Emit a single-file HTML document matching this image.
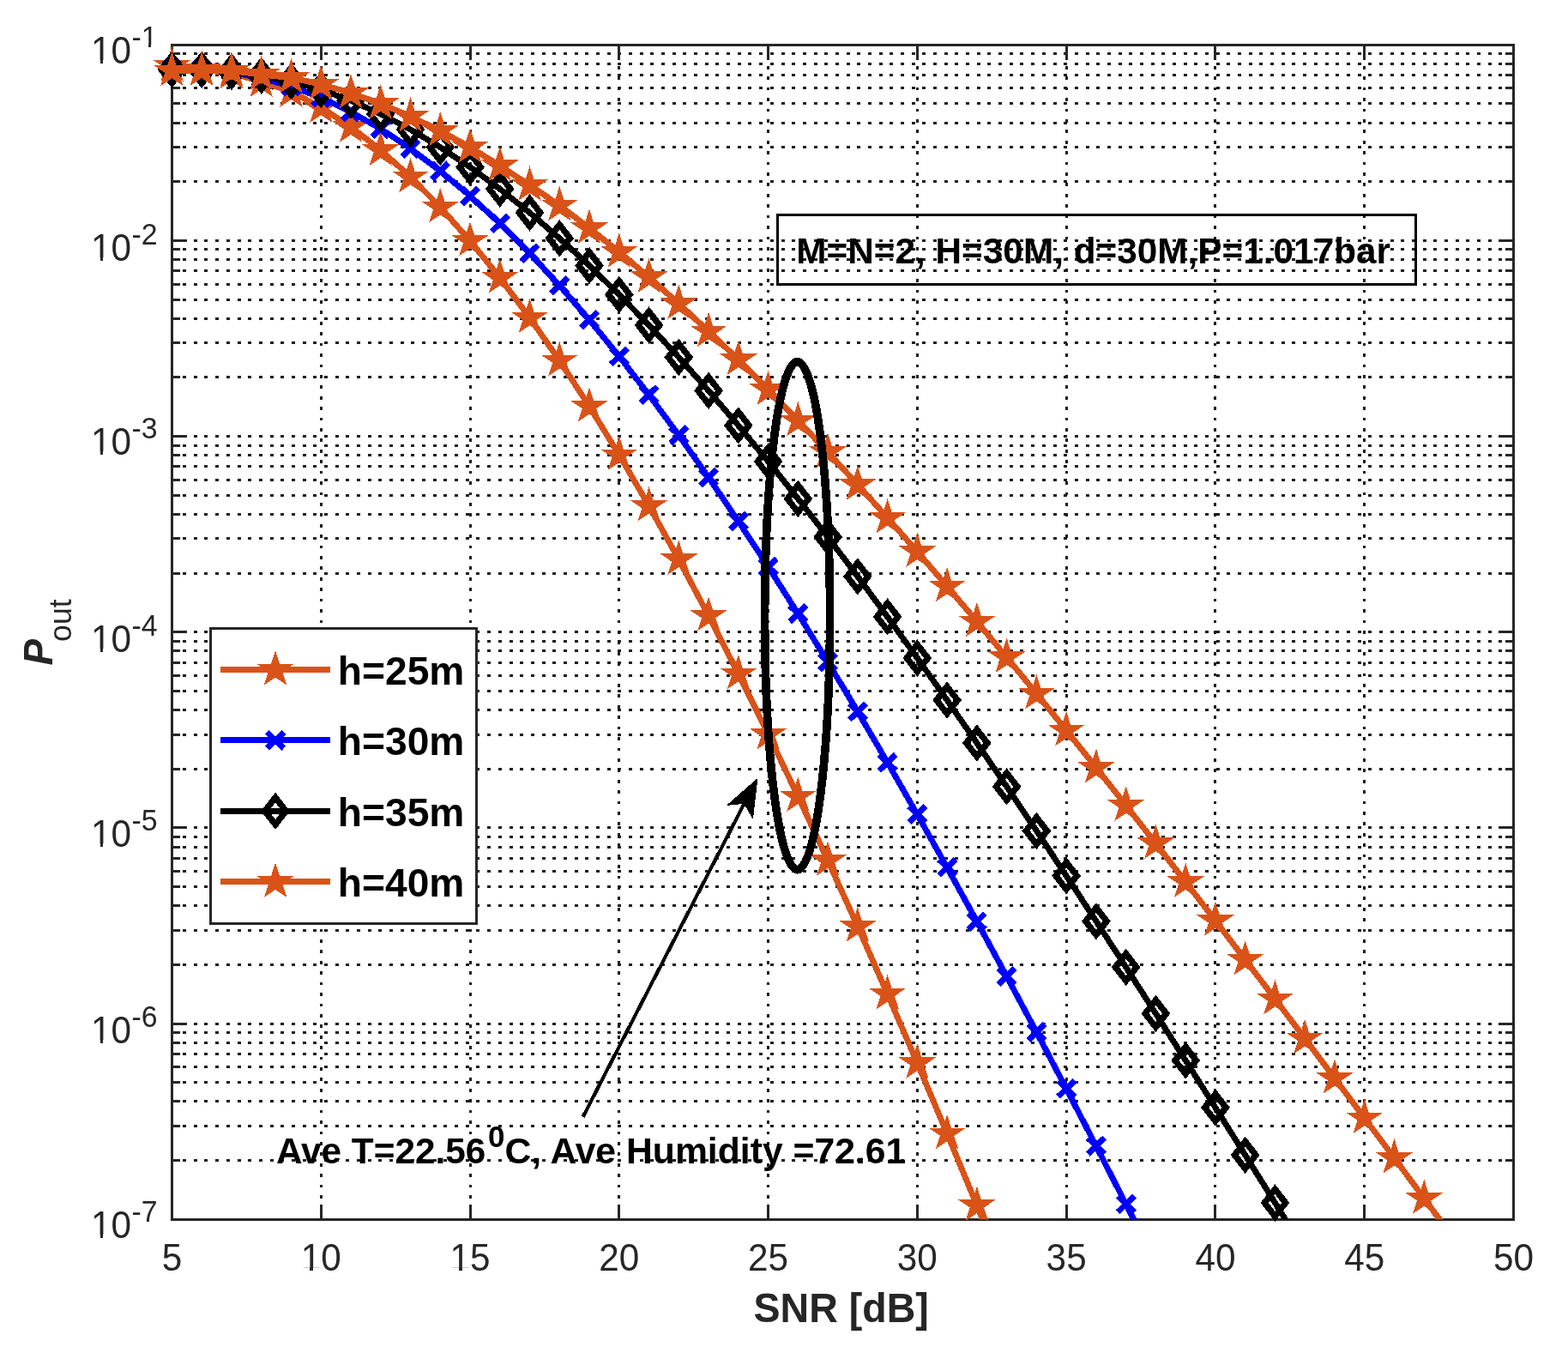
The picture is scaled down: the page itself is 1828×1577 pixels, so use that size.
<!DOCTYPE html>
<html><head><meta charset="utf-8"><title>Pout vs SNR</title>
<style>html,body{margin:0;padding:0;background:#fff}svg{display:block}</style></head>
<body>
<svg width="1828" height="1577" viewBox="0 0 1828 1577" font-family="'Liberation Sans', sans-serif" shape-rendering="crispEdges">
<rect x="0" y="0" width="1828" height="1577" fill="#fff"/>
<defs><clipPath id="axclip"><rect x="200.45" y="52.2" width="1564.05" height="1369.10"/></clipPath></defs>
<path d="M200.45 1352.61H1764.50M200.45 1312.43H1764.50M200.45 1283.92H1764.50M200.45 1261.81H1764.50M200.45 1243.74H1764.50M200.45 1228.46H1764.50M200.45 1215.23H1764.50M200.45 1203.56H1764.50M200.45 1193.12H1764.50M200.45 1124.43H1764.50M200.45 1084.25H1764.50M200.45 1055.74H1764.50M200.45 1033.62H1764.50M200.45 1015.56H1764.50M200.45 1000.28H1764.50M200.45 987.05H1764.50M200.45 975.37H1764.50M200.45 964.93H1764.50M200.45 896.24H1764.50M200.45 856.06H1764.50M200.45 827.55H1764.50M200.45 805.44H1764.50M200.45 787.37H1764.50M200.45 772.10H1764.50M200.45 758.86H1764.50M200.45 747.19H1764.50M200.45 736.75H1764.50M200.45 668.06H1764.50M200.45 627.88H1764.50M200.45 599.37H1764.50M200.45 577.26H1764.50M200.45 559.19H1764.50M200.45 543.91H1764.50M200.45 530.68H1764.50M200.45 519.01H1764.50M200.45 508.57H1764.50M200.45 439.88H1764.50M200.45 399.70H1764.50M200.45 371.19H1764.50M200.45 349.07H1764.50M200.45 331.01H1764.50M200.45 315.73H1764.50M200.45 302.50H1764.50M200.45 290.82H1764.50M200.45 280.38H1764.50M200.45 211.69H1764.50M200.45 171.51H1764.50M200.45 143.00H1764.50M200.45 120.89H1764.50M200.45 102.82H1764.50M200.45 87.55H1764.50M200.45 74.31H1764.50M200.45 62.64H1764.50" stroke="#1c1c1c" stroke-width="3" stroke-dasharray="4 8.68" fill="none"/>
<path d="M374.23 52.20V1421.30M548.02 52.20V1421.30M721.80 52.20V1421.30M895.58 52.20V1421.30M1069.37 52.20V1421.30M1243.15 52.20V1421.30M1416.93 52.20V1421.30M1590.72 52.20V1421.30" stroke="#1c1c1c" stroke-width="3" stroke-dasharray="3.8 8.617" stroke-dashoffset="0.2" fill="none"/>
<path d="M374.23 1421.30v-17.3M374.23 52.20v17.3M548.02 1421.30v-17.3M548.02 52.20v17.3M721.80 1421.30v-17.3M721.80 52.20v17.3M895.58 1421.30v-17.3M895.58 52.20v17.3M1069.37 1421.30v-17.3M1069.37 52.20v17.3M1243.15 1421.30v-17.3M1243.15 52.20v17.3M1416.93 1421.30v-17.3M1416.93 52.20v17.3M1590.72 1421.30v-17.3M1590.72 52.20v17.3M200.45 1352.61h9.4M1764.50 1352.61h-9.4M200.45 1312.43h9.4M1764.50 1312.43h-9.4M200.45 1283.92h9.4M1764.50 1283.92h-9.4M200.45 1261.81h9.4M1764.50 1261.81h-9.4M200.45 1243.74h9.4M1764.50 1243.74h-9.4M200.45 1228.46h9.4M1764.50 1228.46h-9.4M200.45 1215.23h9.4M1764.50 1215.23h-9.4M200.45 1203.56h9.4M1764.50 1203.56h-9.4M200.45 1193.12h17.3M1764.50 1193.12h-17.3M200.45 1124.43h9.4M1764.50 1124.43h-9.4M200.45 1084.25h9.4M1764.50 1084.25h-9.4M200.45 1055.74h9.4M1764.50 1055.74h-9.4M200.45 1033.62h9.4M1764.50 1033.62h-9.4M200.45 1015.56h9.4M1764.50 1015.56h-9.4M200.45 1000.28h9.4M1764.50 1000.28h-9.4M200.45 987.05h9.4M1764.50 987.05h-9.4M200.45 975.37h9.4M1764.50 975.37h-9.4M200.45 964.93h17.3M1764.50 964.93h-17.3M200.45 896.24h9.4M1764.50 896.24h-9.4M200.45 856.06h9.4M1764.50 856.06h-9.4M200.45 827.55h9.4M1764.50 827.55h-9.4M200.45 805.44h9.4M1764.50 805.44h-9.4M200.45 787.37h9.4M1764.50 787.37h-9.4M200.45 772.10h9.4M1764.50 772.10h-9.4M200.45 758.86h9.4M1764.50 758.86h-9.4M200.45 747.19h9.4M1764.50 747.19h-9.4M200.45 736.75h17.3M1764.50 736.75h-17.3M200.45 668.06h9.4M1764.50 668.06h-9.4M200.45 627.88h9.4M1764.50 627.88h-9.4M200.45 599.37h9.4M1764.50 599.37h-9.4M200.45 577.26h9.4M1764.50 577.26h-9.4M200.45 559.19h9.4M1764.50 559.19h-9.4M200.45 543.91h9.4M1764.50 543.91h-9.4M200.45 530.68h9.4M1764.50 530.68h-9.4M200.45 519.01h9.4M1764.50 519.01h-9.4M200.45 508.57h17.3M1764.50 508.57h-17.3M200.45 439.88h9.4M1764.50 439.88h-9.4M200.45 399.70h9.4M1764.50 399.70h-9.4M200.45 371.19h9.4M1764.50 371.19h-9.4M200.45 349.07h9.4M1764.50 349.07h-9.4M200.45 331.01h9.4M1764.50 331.01h-9.4M200.45 315.73h9.4M1764.50 315.73h-9.4M200.45 302.50h9.4M1764.50 302.50h-9.4M200.45 290.82h9.4M1764.50 290.82h-9.4M200.45 280.38h17.3M1764.50 280.38h-17.3M200.45 211.69h9.4M1764.50 211.69h-9.4M200.45 171.51h9.4M1764.50 171.51h-9.4M200.45 143.00h9.4M1764.50 143.00h-9.4M200.45 120.89h9.4M1764.50 120.89h-9.4M200.45 102.82h9.4M1764.50 102.82h-9.4M200.45 87.55h9.4M1764.50 87.55h-9.4M200.45 74.31h9.4M1764.50 74.31h-9.4M200.45 62.64h9.4M1764.50 62.64h-9.4" stroke="#262626" stroke-width="3.0" fill="none"/>
<rect x="200.45" y="52.2" width="1564.05" height="1369.10" fill="none" stroke="#262626" stroke-width="3.0"/>
<text transform="translate(200.45 1481.40) scale(1.016 1.045)" font-size="41.67" text-anchor="middle" fill="#262626">5</text>
<text transform="translate(374.23 1481.40) scale(1.016 1.045)" font-size="41.67" text-anchor="middle" fill="#262626">10</text>
<rect x="352.71" y="1477.75" width="8.62" height="4.25" fill="#fff"/><rect x="365.08" y="1477.75" width="8.29" height="4.25" fill="#fff"/>
<text transform="translate(548.02 1481.40) scale(1.016 1.045)" font-size="41.67" text-anchor="middle" fill="#262626">15</text>
<rect x="526.50" y="1477.75" width="8.62" height="4.25" fill="#fff"/><rect x="538.86" y="1477.75" width="8.29" height="4.25" fill="#fff"/>
<text transform="translate(721.80 1481.40) scale(1.016 1.045)" font-size="41.67" text-anchor="middle" fill="#262626">20</text>
<text transform="translate(895.58 1481.40) scale(1.016 1.045)" font-size="41.67" text-anchor="middle" fill="#262626">25</text>
<text transform="translate(1069.37 1481.40) scale(1.016 1.045)" font-size="41.67" text-anchor="middle" fill="#262626">30</text>
<text transform="translate(1243.15 1481.40) scale(1.016 1.045)" font-size="41.67" text-anchor="middle" fill="#262626">35</text>
<text transform="translate(1416.93 1481.40) scale(1.016 1.045)" font-size="41.67" text-anchor="middle" fill="#262626">40</text>
<text transform="translate(1590.72 1481.40) scale(1.016 1.045)" font-size="41.67" text-anchor="middle" fill="#262626">45</text>
<text transform="translate(1764.50 1481.40) scale(1.016 1.045)" font-size="41.67" text-anchor="middle" fill="#262626">50</text>
<text transform="translate(105.90 1443.00) scale(1.016 1.055)" font-size="41.67" fill="#262626">10</text>
<rect x="107.92" y="1439.32" width="8.62" height="4.28" fill="#fff"/><rect x="120.29" y="1439.32" width="8.29" height="4.28" fill="#fff"/>
<text transform="translate(153.60 1423.90) scale(1.016 1.05)" font-size="33.33" fill="#262626">-7</text>
<text transform="translate(105.90 1215.86) scale(1.016 1.055)" font-size="41.67" fill="#262626">10</text>
<rect x="107.92" y="1212.18" width="8.62" height="4.28" fill="#fff"/><rect x="120.29" y="1212.18" width="8.29" height="4.28" fill="#fff"/>
<text transform="translate(153.60 1196.76) scale(1.016 1.05)" font-size="33.33" fill="#262626">-6</text>
<text transform="translate(105.90 986.97) scale(1.016 1.055)" font-size="41.67" fill="#262626">10</text>
<rect x="107.92" y="983.29" width="8.62" height="4.28" fill="#fff"/><rect x="120.29" y="983.29" width="8.29" height="4.28" fill="#fff"/>
<text transform="translate(153.60 967.87) scale(1.016 1.05)" font-size="33.33" fill="#262626">-5</text>
<text transform="translate(105.90 759.88) scale(1.016 1.055)" font-size="41.67" fill="#262626">10</text>
<rect x="107.92" y="756.20" width="8.62" height="4.28" fill="#fff"/><rect x="120.29" y="756.20" width="8.29" height="4.28" fill="#fff"/>
<text transform="translate(153.60 740.78) scale(1.016 1.05)" font-size="33.33" fill="#262626">-4</text>
<text transform="translate(105.90 529.88) scale(1.016 1.055)" font-size="41.67" fill="#262626">10</text>
<rect x="107.92" y="526.20" width="8.62" height="4.28" fill="#fff"/><rect x="120.29" y="526.20" width="8.29" height="4.28" fill="#fff"/>
<text transform="translate(153.60 510.78) scale(1.016 1.05)" font-size="33.33" fill="#262626">-3</text>
<text transform="translate(105.90 303.69) scale(1.016 1.055)" font-size="41.67" fill="#262626">10</text>
<rect x="107.92" y="300.01" width="8.62" height="4.28" fill="#fff"/><rect x="120.29" y="300.01" width="8.29" height="4.28" fill="#fff"/>
<text transform="translate(153.60 284.59) scale(1.016 1.05)" font-size="33.33" fill="#262626">-2</text>
<text transform="translate(105.90 73.97) scale(1.016 1.055)" font-size="41.67" fill="#262626">10</text>
<rect x="107.92" y="70.29" width="8.62" height="4.28" fill="#fff"/><rect x="120.29" y="70.29" width="8.29" height="4.28" fill="#fff"/>
<text transform="translate(153.60 54.87) scale(1.016 1.05)" font-size="33.33" fill="#262626">-1</text>
<rect x="166.26" y="51.86" width="7.14" height="3.61" fill="#fff"/><rect x="176.38" y="51.86" width="6.87" height="3.61" fill="#fff"/>
<text transform="translate(980.60 1541.00) scale(1.016 1.04)" font-size="45.83" text-anchor="middle" font-weight="bold" fill="#262626">SNR [dB]</text>
<g transform="translate(60.8 775.6) rotate(-90)" fill="#262626"><text transform="scale(1 1.045)" x="0" y="0" font-size="45.83" font-weight="bold" font-style="italic">P</text><text transform="translate(27.7 22.2) scale(0.973 1.0)" font-size="36.67">out</text></g>
<path d="M200.45 76.70L235.21 81.00L269.96 85.30L304.72 95.00L339.48 106.96L374.23 125.15L408.99 147.86L443.75 174.92L478.50 206.19L513.26 241.51L548.02 280.73L582.77 323.70L617.53 370.27L652.29 420.30L687.04 473.63L721.80 530.14L756.56 589.66L791.31 652.07L826.07 717.67L860.83 785.42L895.58 855.64L930.34 928.18L965.10 1002.93L999.85 1079.73L1034.61 1158.47L1069.37 1239.01L1104.12 1321.23L1138.88 1404.98L1173.64 1490.16" stroke="#D95319" stroke-width="6.94" fill="none" stroke-linejoin="round" clip-path="url(#axclip)"/><path d="M200.45,54.20L205.45,70.06L222.25,70.06L208.55,79.30L213.65,94.60L200.45,85.80L187.25,94.60L192.35,79.30L178.65,70.06L195.45,70.06ZM235.21,58.50L240.21,74.36L257.01,74.36L243.31,83.60L248.41,98.90L235.21,90.10L222.01,98.90L227.11,83.60L213.41,74.36L230.21,74.36ZM269.96,62.80L274.96,78.66L291.76,78.66L278.06,87.90L283.16,103.20L269.96,94.40L256.76,103.20L261.86,87.90L248.16,78.66L264.96,78.66ZM304.72,72.50L309.72,88.36L326.52,88.36L312.82,97.60L317.92,112.90L304.72,104.10L291.52,112.90L296.62,97.60L282.92,88.36L299.72,88.36ZM339.48,84.46L344.48,100.32L361.28,100.32L347.58,109.56L352.68,124.86L339.48,116.06L326.28,124.86L331.38,109.56L317.68,100.32L334.48,100.32ZM374.23,102.65L379.23,118.51L396.03,118.51L382.33,127.75L387.43,143.05L374.23,134.25L361.03,143.05L366.13,127.75L352.43,118.51L369.23,118.51ZM408.99,125.36L413.99,141.22L430.79,141.22L417.09,150.46L422.19,165.76L408.99,156.96L395.79,165.76L400.89,150.46L387.19,141.22L403.99,141.22ZM443.75,152.42L448.75,168.28L465.55,168.28L451.85,177.52L456.95,192.82L443.75,184.02L430.55,192.82L435.65,177.52L421.95,168.28L438.75,168.28ZM478.50,183.69L483.50,199.55L500.30,199.55L486.60,208.79L491.70,224.09L478.50,215.29L465.30,224.09L470.40,208.79L456.70,199.55L473.50,199.55ZM513.26,219.01L518.26,234.87L535.06,234.87L521.36,244.11L526.46,259.41L513.26,250.61L500.06,259.41L505.16,244.11L491.46,234.87L508.26,234.87ZM548.02,258.23L553.02,274.09L569.82,274.09L556.12,283.33L561.22,298.63L548.02,289.83L534.82,298.63L539.92,283.33L526.22,274.09L543.02,274.09ZM582.77,301.20L587.77,317.06L604.57,317.06L590.87,326.30L595.97,341.60L582.77,332.80L569.57,341.60L574.67,326.30L560.97,317.06L577.77,317.06ZM617.53,347.77L622.53,363.63L639.33,363.63L625.63,372.87L630.73,388.17L617.53,379.37L604.33,388.17L609.43,372.87L595.73,363.63L612.53,363.63ZM652.29,397.80L657.29,413.66L674.09,413.66L660.39,422.90L665.49,438.20L652.29,429.40L639.09,438.20L644.19,422.90L630.49,413.66L647.29,413.66ZM687.04,451.13L692.04,466.99L708.84,466.99L695.14,476.23L700.24,491.53L687.04,482.73L673.84,491.53L678.94,476.23L665.24,466.99L682.04,466.99ZM721.80,507.64L726.80,523.50L743.60,523.50L729.90,532.74L735.00,548.04L721.80,539.24L708.60,548.04L713.70,532.74L700.00,523.50L716.80,523.50ZM756.56,567.16L761.56,583.02L778.36,583.02L764.66,592.26L769.76,607.56L756.56,598.76L743.36,607.56L748.46,592.26L734.76,583.02L751.56,583.02ZM791.31,629.57L796.31,645.43L813.11,645.43L799.41,654.67L804.51,669.97L791.31,661.17L778.11,669.97L783.21,654.67L769.51,645.43L786.31,645.43ZM826.07,695.17L831.07,711.03L847.87,711.03L834.17,720.27L839.27,735.57L826.07,726.77L812.87,735.57L817.97,720.27L804.27,711.03L821.07,711.03ZM860.83,762.92L865.83,778.78L882.63,778.78L868.93,788.02L874.03,803.32L860.83,794.52L847.63,803.32L852.73,788.02L839.03,778.78L855.83,778.78ZM895.58,833.14L900.58,849.00L917.38,849.00L903.68,858.24L908.78,873.54L895.58,864.74L882.38,873.54L887.48,858.24L873.78,849.00L890.58,849.00ZM930.34,905.68L935.34,921.54L952.14,921.54L938.44,930.78L943.54,946.08L930.34,937.28L917.14,946.08L922.24,930.78L908.54,921.54L925.34,921.54ZM965.10,980.43L970.10,996.29L986.90,996.29L973.20,1005.53L978.30,1020.83L965.10,1012.03L951.90,1020.83L957.00,1005.53L943.30,996.29L960.10,996.29ZM999.85,1057.23L1004.85,1073.09L1021.65,1073.09L1007.95,1082.33L1013.05,1097.63L999.85,1088.83L986.65,1097.63L991.75,1082.33L978.05,1073.09L994.85,1073.09ZM1034.61,1135.97L1039.61,1151.83L1056.41,1151.83L1042.71,1161.07L1047.81,1176.37L1034.61,1167.57L1021.41,1176.37L1026.51,1161.07L1012.81,1151.83L1029.61,1151.83ZM1069.37,1216.51L1074.37,1232.37L1091.17,1232.37L1077.47,1241.61L1082.57,1256.91L1069.37,1248.11L1056.17,1256.91L1061.27,1241.61L1047.57,1232.37L1064.37,1232.37ZM1104.12,1298.73L1109.12,1314.59L1125.92,1314.59L1112.22,1323.83L1117.32,1339.13L1104.12,1330.33L1090.92,1339.13L1096.02,1323.83L1082.32,1314.59L1099.12,1314.59ZM1138.88,1382.48L1143.88,1398.34L1160.68,1398.34L1146.98,1407.58L1152.08,1422.88L1138.88,1414.08L1125.68,1422.88L1130.78,1407.58L1117.08,1398.34L1133.88,1398.34Z" fill="#D95319"/>
<path d="M200.45 80.00L235.21 80.60L269.96 84.30L304.72 91.00L339.48 100.68L374.23 113.85L408.99 130.38L443.75 150.20L478.50 173.21L513.26 199.31L548.02 228.42L582.77 260.43L617.53 295.24L652.29 332.73L687.04 372.80L721.80 415.33L756.56 460.20L791.31 507.29L826.07 556.46L860.83 607.60L895.58 660.58L930.34 715.28L965.10 771.60L999.85 829.43L1034.61 888.67L1069.37 949.23L1104.12 1011.03L1138.88 1073.97L1173.64 1137.99L1208.39 1203.01L1243.15 1268.97L1277.91 1335.81L1312.66 1403.48L1347.42 1471.92" stroke="#0000FF" stroke-width="6.94" fill="none" stroke-linejoin="round" clip-path="url(#axclip)"/><path d="M190.81 70.60L210.08 89.40M190.81 89.40L210.08 70.60M225.57 71.20L244.84 90.00M225.57 90.00L244.84 71.20M260.33 74.90L279.60 93.70M260.33 93.70L279.60 74.90M295.08 81.60L314.35 100.40M295.08 100.40L314.35 81.60M329.84 91.28L349.11 110.08M329.84 110.08L349.11 91.28M364.60 104.45L383.87 123.25M364.60 123.25L383.87 104.45M399.36 120.98L418.62 139.78M399.36 139.78L418.62 120.98M434.11 140.80L453.38 159.60M434.11 159.60L453.38 140.80M468.87 163.81L488.14 182.61M468.87 182.61L488.14 163.81M503.62 189.91L522.89 208.71M503.62 208.71L522.89 189.91M538.38 219.02L557.65 237.82M538.38 237.82L557.65 219.02M573.14 251.03L592.41 269.83M573.14 269.83L592.41 251.03M607.89 285.84L627.16 304.64M607.89 304.64L627.16 285.84M642.65 323.33L661.92 342.13M642.65 342.13L661.92 323.33M677.41 363.40L696.68 382.20M677.41 382.20L696.68 363.40M712.16 405.93L731.43 424.73M712.16 424.73L731.43 405.93M746.92 450.80L766.19 469.60M746.92 469.60L766.19 450.80M781.68 497.89L800.95 516.69M781.68 516.69L800.95 497.89M816.43 547.06L835.70 565.86M816.43 565.86L835.70 547.06M851.19 598.20L870.46 617.00M851.19 617.00L870.46 598.20M885.95 651.18L905.22 669.98M885.95 669.98L905.22 651.18M920.70 705.88L939.97 724.68M920.70 724.68L939.97 705.88M955.46 762.20L974.73 781.00M955.46 781.00L974.73 762.20M990.22 820.03L1009.49 838.83M990.22 838.83L1009.49 820.03M1024.97 879.27L1044.24 898.07M1024.97 898.07L1044.24 879.27M1059.73 939.83L1079.00 958.63M1059.73 958.63L1079.00 939.83M1094.49 1001.63L1113.76 1020.43M1094.49 1020.43L1113.76 1001.63M1129.24 1064.57L1148.51 1083.37M1129.24 1083.37L1148.51 1064.57M1164.00 1128.59L1183.27 1147.39M1164.00 1147.39L1183.27 1128.59M1198.76 1193.61L1218.03 1212.41M1198.76 1212.41L1218.03 1193.61M1233.51 1259.57L1252.78 1278.37M1233.51 1278.37L1252.78 1259.57M1268.27 1326.41L1287.54 1345.21M1268.27 1345.21L1287.54 1326.41M1303.03 1394.08L1322.30 1412.88M1303.03 1412.88L1322.30 1394.08" fill="none" stroke="#0000FF" stroke-width="6.94"/>
<path d="M200.45 81.20L235.21 81.40L269.96 83.60L304.72 88.10L339.48 94.79L374.23 104.58L408.99 117.28L443.75 132.75L478.50 150.89L513.26 171.59L548.02 194.73L582.77 220.21L617.53 247.92L652.29 277.76L687.04 309.62L721.80 343.40L756.56 379.02L791.31 416.37L826.07 455.36L860.83 495.90L895.58 537.91L930.34 581.29L965.10 625.97L999.85 671.86L1034.61 718.89L1069.37 766.98L1104.12 816.05L1138.88 866.04L1173.64 916.87L1208.39 968.48L1243.15 1020.79L1277.91 1073.76L1312.66 1127.31L1347.42 1181.39L1382.18 1235.95L1416.93 1290.93L1451.69 1346.28L1486.45 1401.94L1521.20 1457.88" stroke="#000000" stroke-width="6.94" fill="none" stroke-linejoin="round" clip-path="url(#axclip)"/><path d="M200.45 65.40L212.75 81.20L200.45 97.00L188.15 81.20ZM235.21 65.60L247.51 81.40L235.21 97.20L222.91 81.40ZM269.96 67.80L282.26 83.60L269.96 99.40L257.66 83.60ZM304.72 72.30L317.02 88.10L304.72 103.90L292.42 88.10ZM339.48 78.99L351.78 94.79L339.48 110.59L327.18 94.79ZM374.23 88.78L386.53 104.58L374.23 120.38L361.93 104.58ZM408.99 101.48L421.29 117.28L408.99 133.08L396.69 117.28ZM443.75 116.95L456.05 132.75L443.75 148.55L431.45 132.75ZM478.50 135.09L490.80 150.89L478.50 166.69L466.20 150.89ZM513.26 155.79L525.56 171.59L513.26 187.39L500.96 171.59ZM548.02 178.93L560.32 194.73L548.02 210.53L535.72 194.73ZM582.77 204.41L595.07 220.21L582.77 236.01L570.47 220.21ZM617.53 232.12L629.83 247.92L617.53 263.72L605.23 247.92ZM652.29 261.96L664.59 277.76L652.29 293.56L639.99 277.76ZM687.04 293.82L699.34 309.62L687.04 325.42L674.74 309.62ZM721.80 327.60L734.10 343.40L721.80 359.20L709.50 343.40ZM756.56 363.22L768.86 379.02L756.56 394.82L744.26 379.02ZM791.31 400.57L803.61 416.37L791.31 432.17L779.01 416.37ZM826.07 439.56L838.37 455.36L826.07 471.16L813.77 455.36ZM860.83 480.10L873.13 495.90L860.83 511.70L848.53 495.90ZM895.58 522.11L907.88 537.91L895.58 553.71L883.28 537.91ZM930.34 565.49L942.64 581.29L930.34 597.09L918.04 581.29ZM965.10 610.17L977.40 625.97L965.10 641.77L952.80 625.97ZM999.85 656.06L1012.15 671.86L999.85 687.66L987.55 671.86ZM1034.61 703.09L1046.91 718.89L1034.61 734.69L1022.31 718.89ZM1069.37 751.18L1081.67 766.98L1069.37 782.78L1057.07 766.98ZM1104.12 800.25L1116.42 816.05L1104.12 831.85L1091.82 816.05ZM1138.88 850.24L1151.18 866.04L1138.88 881.84L1126.58 866.04ZM1173.64 901.07L1185.94 916.87L1173.64 932.67L1161.34 916.87ZM1208.39 952.68L1220.69 968.48L1208.39 984.28L1196.09 968.48ZM1243.15 1004.99L1255.45 1020.79L1243.15 1036.59L1230.85 1020.79ZM1277.91 1057.96L1290.21 1073.76L1277.91 1089.56L1265.61 1073.76ZM1312.66 1111.51L1324.96 1127.31L1312.66 1143.11L1300.36 1127.31ZM1347.42 1165.59L1359.72 1181.39L1347.42 1197.19L1335.12 1181.39ZM1382.18 1220.15L1394.48 1235.95L1382.18 1251.75L1369.88 1235.95ZM1416.93 1275.13L1429.23 1290.93L1416.93 1306.73L1404.63 1290.93ZM1451.69 1330.48L1463.99 1346.28L1451.69 1362.08L1439.39 1346.28ZM1486.45 1386.14L1498.75 1401.94L1486.45 1417.74L1474.15 1401.94Z" fill="none" stroke="#000000" stroke-width="7.3" stroke-linejoin="miter" stroke-miterlimit="10"/>
<path d="M200.45 82.30L235.21 81.90L269.96 82.50L304.72 87.10L339.48 90.64L374.23 98.27L408.99 108.38L443.75 120.87L478.50 135.62L513.26 152.53L548.02 171.50L582.77 193.10L617.53 215.90L652.29 239.30L687.04 266.00L721.80 293.70L756.56 323.10L791.31 353.90L826.07 386.20L860.83 419.10L895.58 454.10L930.34 490.30L965.10 527.10L999.85 564.86L1034.61 603.52L1069.37 643.03L1104.12 683.33L1138.88 724.36L1173.64 766.08L1208.39 808.42L1243.15 851.35L1277.91 894.80L1312.66 938.74L1347.42 983.12L1382.18 1027.91L1416.93 1073.06L1451.69 1118.55L1486.45 1164.33L1521.20 1210.39L1555.96 1256.69L1590.72 1303.21L1625.47 1349.70L1660.23 1396.80L1694.99 1443.89" stroke="#D95319" stroke-width="6.94" fill="none" stroke-linejoin="round" clip-path="url(#axclip)"/><path d="M200.45,59.80L205.45,75.66L222.25,75.66L208.55,84.90L213.65,100.20L200.45,91.40L187.25,100.20L192.35,84.90L178.65,75.66L195.45,75.66ZM235.21,59.40L240.21,75.26L257.01,75.26L243.31,84.50L248.41,99.80L235.21,91.00L222.01,99.80L227.11,84.50L213.41,75.26L230.21,75.26ZM269.96,60.00L274.96,75.86L291.76,75.86L278.06,85.10L283.16,100.40L269.96,91.60L256.76,100.40L261.86,85.10L248.16,75.86L264.96,75.86ZM304.72,64.60L309.72,80.46L326.52,80.46L312.82,89.70L317.92,105.00L304.72,96.20L291.52,105.00L296.62,89.70L282.92,80.46L299.72,80.46ZM339.48,68.14L344.48,84.00L361.28,84.00L347.58,93.24L352.68,108.54L339.48,99.74L326.28,108.54L331.38,93.24L317.68,84.00L334.48,84.00ZM374.23,75.77L379.23,91.63L396.03,91.63L382.33,100.87L387.43,116.17L374.23,107.37L361.03,116.17L366.13,100.87L352.43,91.63L369.23,91.63ZM408.99,85.88L413.99,101.74L430.79,101.74L417.09,110.98L422.19,126.28L408.99,117.48L395.79,126.28L400.89,110.98L387.19,101.74L403.99,101.74ZM443.75,98.37L448.75,114.23L465.55,114.23L451.85,123.47L456.95,138.77L443.75,129.97L430.55,138.77L435.65,123.47L421.95,114.23L438.75,114.23ZM478.50,113.12L483.50,128.98L500.30,128.98L486.60,138.22L491.70,153.52L478.50,144.72L465.30,153.52L470.40,138.22L456.70,128.98L473.50,128.98ZM513.26,130.03L518.26,145.89L535.06,145.89L521.36,155.13L526.46,170.43L513.26,161.63L500.06,170.43L505.16,155.13L491.46,145.89L508.26,145.89ZM548.02,149.00L553.02,164.86L569.82,164.86L556.12,174.10L561.22,189.40L548.02,180.60L534.82,189.40L539.92,174.10L526.22,164.86L543.02,164.86ZM582.77,170.60L587.77,186.46L604.57,186.46L590.87,195.70L595.97,211.00L582.77,202.20L569.57,211.00L574.67,195.70L560.97,186.46L577.77,186.46ZM617.53,193.40L622.53,209.26L639.33,209.26L625.63,218.50L630.73,233.80L617.53,225.00L604.33,233.80L609.43,218.50L595.73,209.26L612.53,209.26ZM652.29,216.80L657.29,232.66L674.09,232.66L660.39,241.90L665.49,257.20L652.29,248.40L639.09,257.20L644.19,241.90L630.49,232.66L647.29,232.66ZM687.04,243.50L692.04,259.36L708.84,259.36L695.14,268.60L700.24,283.90L687.04,275.10L673.84,283.90L678.94,268.60L665.24,259.36L682.04,259.36ZM721.80,271.20L726.80,287.06L743.60,287.06L729.90,296.30L735.00,311.60L721.80,302.80L708.60,311.60L713.70,296.30L700.00,287.06L716.80,287.06ZM756.56,300.60L761.56,316.46L778.36,316.46L764.66,325.70L769.76,341.00L756.56,332.20L743.36,341.00L748.46,325.70L734.76,316.46L751.56,316.46ZM791.31,331.40L796.31,347.26L813.11,347.26L799.41,356.50L804.51,371.80L791.31,363.00L778.11,371.80L783.21,356.50L769.51,347.26L786.31,347.26ZM826.07,363.70L831.07,379.56L847.87,379.56L834.17,388.80L839.27,404.10L826.07,395.30L812.87,404.10L817.97,388.80L804.27,379.56L821.07,379.56ZM860.83,396.60L865.83,412.46L882.63,412.46L868.93,421.70L874.03,437.00L860.83,428.20L847.63,437.00L852.73,421.70L839.03,412.46L855.83,412.46ZM895.58,431.60L900.58,447.46L917.38,447.46L903.68,456.70L908.78,472.00L895.58,463.20L882.38,472.00L887.48,456.70L873.78,447.46L890.58,447.46ZM930.34,467.80L935.34,483.66L952.14,483.66L938.44,492.90L943.54,508.20L930.34,499.40L917.14,508.20L922.24,492.90L908.54,483.66L925.34,483.66ZM965.10,504.60L970.10,520.46L986.90,520.46L973.20,529.70L978.30,545.00L965.10,536.20L951.90,545.00L957.00,529.70L943.30,520.46L960.10,520.46ZM999.85,542.36L1004.85,558.22L1021.65,558.22L1007.95,567.46L1013.05,582.76L999.85,573.96L986.65,582.76L991.75,567.46L978.05,558.22L994.85,558.22ZM1034.61,581.02L1039.61,596.88L1056.41,596.88L1042.71,606.12L1047.81,621.42L1034.61,612.62L1021.41,621.42L1026.51,606.12L1012.81,596.88L1029.61,596.88ZM1069.37,620.53L1074.37,636.39L1091.17,636.39L1077.47,645.63L1082.57,660.93L1069.37,652.13L1056.17,660.93L1061.27,645.63L1047.57,636.39L1064.37,636.39ZM1104.12,660.83L1109.12,676.69L1125.92,676.69L1112.22,685.93L1117.32,701.23L1104.12,692.43L1090.92,701.23L1096.02,685.93L1082.32,676.69L1099.12,676.69ZM1138.88,701.86L1143.88,717.72L1160.68,717.72L1146.98,726.96L1152.08,742.26L1138.88,733.46L1125.68,742.26L1130.78,726.96L1117.08,717.72L1133.88,717.72ZM1173.64,743.58L1178.64,759.44L1195.44,759.44L1181.74,768.68L1186.84,783.98L1173.64,775.18L1160.44,783.98L1165.54,768.68L1151.84,759.44L1168.64,759.44ZM1208.39,785.92L1213.39,801.78L1230.19,801.78L1216.49,811.02L1221.59,826.32L1208.39,817.52L1195.19,826.32L1200.29,811.02L1186.59,801.78L1203.39,801.78ZM1243.15,828.85L1248.15,844.71L1264.95,844.71L1251.25,853.95L1256.35,869.25L1243.15,860.45L1229.95,869.25L1235.05,853.95L1221.35,844.71L1238.15,844.71ZM1277.91,872.30L1282.91,888.16L1299.71,888.16L1286.01,897.40L1291.11,912.70L1277.91,903.90L1264.71,912.70L1269.81,897.40L1256.11,888.16L1272.91,888.16ZM1312.66,916.24L1317.66,932.10L1334.46,932.10L1320.76,941.34L1325.86,956.64L1312.66,947.84L1299.46,956.64L1304.56,941.34L1290.86,932.10L1307.66,932.10ZM1347.42,960.62L1352.42,976.48L1369.22,976.48L1355.52,985.72L1360.62,1001.02L1347.42,992.22L1334.22,1001.02L1339.32,985.72L1325.62,976.48L1342.42,976.48ZM1382.18,1005.41L1387.18,1021.27L1403.98,1021.27L1390.28,1030.51L1395.38,1045.81L1382.18,1037.01L1368.98,1045.81L1374.08,1030.51L1360.38,1021.27L1377.18,1021.27ZM1416.93,1050.56L1421.93,1066.42L1438.73,1066.42L1425.03,1075.66L1430.13,1090.96L1416.93,1082.16L1403.73,1090.96L1408.83,1075.66L1395.13,1066.42L1411.93,1066.42ZM1451.69,1096.05L1456.69,1111.91L1473.49,1111.91L1459.79,1121.15L1464.89,1136.45L1451.69,1127.65L1438.49,1136.45L1443.59,1121.15L1429.89,1111.91L1446.69,1111.91ZM1486.45,1141.83L1491.45,1157.69L1508.25,1157.69L1494.55,1166.93L1499.65,1182.23L1486.45,1173.43L1473.25,1182.23L1478.35,1166.93L1464.65,1157.69L1481.45,1157.69ZM1521.20,1187.89L1526.20,1203.75L1543.00,1203.75L1529.30,1212.99L1534.40,1228.29L1521.20,1219.49L1508.00,1228.29L1513.10,1212.99L1499.40,1203.75L1516.20,1203.75ZM1555.96,1234.19L1560.96,1250.05L1577.76,1250.05L1564.06,1259.29L1569.16,1274.59L1555.96,1265.79L1542.76,1274.59L1547.86,1259.29L1534.16,1250.05L1550.96,1250.05ZM1590.72,1280.71L1595.72,1296.57L1612.52,1296.57L1598.82,1305.81L1603.92,1321.11L1590.72,1312.31L1577.52,1321.11L1582.62,1305.81L1568.92,1296.57L1585.72,1296.57ZM1625.47,1327.20L1630.47,1343.06L1647.27,1343.06L1633.57,1352.30L1638.67,1367.60L1625.47,1358.80L1612.27,1367.60L1617.37,1352.30L1603.67,1343.06L1620.47,1343.06ZM1660.23,1374.30L1665.23,1390.16L1682.03,1390.16L1668.33,1399.40L1673.43,1414.70L1660.23,1405.90L1647.03,1414.70L1652.13,1399.40L1638.43,1390.16L1655.23,1390.16Z" fill="#D95319"/>
<rect x="245.4" y="732.4" width="309.90" height="344.10" fill="#fff" stroke="#262626" stroke-width="3.0"/>
<path d="M257 780.5H384.9" stroke="#D95319" stroke-width="6.94" fill="none"/>
<path d="M321.05,758.00L326.05,773.86L342.85,773.86L329.15,783.10L334.25,798.40L321.05,789.60L307.85,798.40L312.95,783.10L299.25,773.86L316.05,773.86Z" fill="#D95319"/>
<text transform="translate(393.80 797.96) scale(1.0075 1.0)" font-size="45.83" font-weight="bold" fill="#000">h=25m</text>
<path d="M257 862.9H384.9" stroke="#0000FF" stroke-width="6.94" fill="none"/>
<path d="M311.42 853.50L330.69 872.30M311.42 872.30L330.69 853.50" fill="none" stroke="#0000FF" stroke-width="6.94"/>
<text transform="translate(393.80 880.40) scale(1.0075 1.0)" font-size="45.83" font-weight="bold" fill="#000">h=30m</text>
<path d="M257 945.3H384.9" stroke="#000000" stroke-width="6.94" fill="none"/>
<path d="M321.05 929.50L333.35 945.30L321.05 961.10L308.75 945.30Z" fill="none" stroke="#000000" stroke-width="7.3" stroke-linejoin="miter" stroke-miterlimit="10"/>
<text transform="translate(393.80 962.80) scale(1.0075 1.0)" font-size="45.83" font-weight="bold" fill="#000">h=35m</text>
<path d="M257 1027.8H384.9" stroke="#D95319" stroke-width="6.94" fill="none"/>
<path d="M321.05,1005.30L326.05,1021.16L342.85,1021.16L329.15,1030.40L334.25,1045.70L321.05,1036.90L307.85,1045.70L312.95,1030.40L299.25,1021.16L316.05,1021.16Z" fill="#D95319"/>
<text transform="translate(393.80 1044.90) scale(1.0075 1.0)" font-size="45.83" font-weight="bold" fill="#000">h=40m</text>
<rect x="906.5" y="250.7" width="744.15" height="80.50" fill="none" stroke="#000" stroke-width="3.0"/>
<text transform="translate(928.20 306.70) scale(1.016 1.04)" font-size="41.67" font-weight="bold" fill="#000">M=N=2, H=30M, d=30M,P=1.017bar</text>
<text transform="translate(322.00 1355.70) scale(1.016 1.035)" font-size="41.67" font-weight="bold" fill="#000">Ave T=22.56</text>
<text transform="translate(569.00 1336.50) scale(1.05 1.03)" font-size="33.33" font-weight="bold" fill="#000">0</text>
<text transform="translate(588.40 1355.70) scale(1.025 1.035)" font-size="41.67" font-weight="bold" fill="#000">C, Ave Humidity =72.61</text>
<ellipse cx="929.6" cy="717.7" rx="38.0" ry="296.0" fill="none" stroke="#000" stroke-width="9.7"/>
<path d="M679.6 1301.9L869 934" stroke="#000" stroke-width="4.2" fill="none"/>
<path d="M882.6 908.4L848.8 938.0L867.9 936.2L877.4 953.2Z" fill="#000" stroke="#000" stroke-width="1.4" stroke-linejoin="round"/>
</svg>
</body></html>
